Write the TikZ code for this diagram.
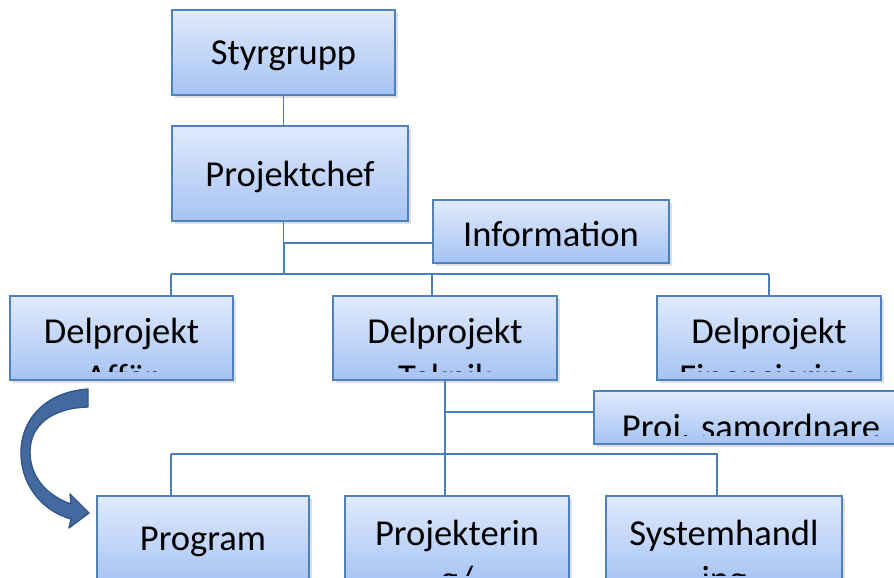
\documentclass[tikz,border=0pt]{standalone}
\usepackage{fontspec}
\setmainfont{Carlito}
\usetikzlibrary{shadows}
\usetikzlibrary{backgrounds}
\definecolor{boxtop}{HTML}{E0EAFC}
\definecolor{boxbot}{HTML}{A6C3F3}
\definecolor{boxline}{HTML}{4F81BD}
\definecolor{linkblue}{HTML}{4A7EBB}
\definecolor{arrowblue}{HTML}{44699F}
\definecolor{arrowline}{HTML}{30568C}
\begin{document}
\begin{tikzpicture}[
  x=0.75pt, y=-0.75pt,
  line width=1.2pt,
  font=\fontsize{27.4pt}{34.5pt}\selectfont
]
\tikzset{
    orgnode/.style = {rectangle, draw=boxline, top color=boxtop, bottom color=boxbot, inner sep=0pt,
      drop shadow={shadow xshift=2pt, shadow yshift=-2pt, opacity=0.25}},
    orglabel/.style = {anchor=base, inner sep=0pt},
    oneline/.style 2 args = {path picture={
      \clip ([yshift=6.75pt]path picture bounding box.south west) rectangle (path picture bounding box.north east);
      \node[orglabel] at ([yshift=#2]path picture bounding box.center) {#1};}},
    twolines/.style 2 args = {path picture={
      \clip ([yshift=6.75pt]path picture bounding box.south west) rectangle (path picture bounding box.north east);
      \node[orglabel] at ([yshift=-3.75pt]path picture bounding box.center) {#1};
      \node[orglabel] at ([yshift=-38.25pt]path picture bounding box.center) {#2};}},
    link/.style = {draw=linkblue, line width=1.4pt},
}
\clip (0,0) rectangle (894,578);
\useasboundingbox (0,0) rectangle (894,578);
\node[orgnode, minimum width=167.25pt, minimum height=63.75pt, oneline={Styrgrupp}{-9pt}] (styr) at (283.5,52.5) {};
\node[orgnode, minimum width=177pt, minimum height=71.25pt, oneline={Projektchef}{-10pt}] (chef) at (290,173.5) {};
\node[orgnode, minimum width=177pt, minimum height=47.25pt, oneline={Information}{-11.5pt}] (info) at (551,231.5) {};
\node[orgnode, minimum width=167.25pt, minimum height=63pt, twolines={Delprojekt}{Affär}] (affar) at (121.5,338) {};
\node[orgnode, minimum width=168pt, minimum height=63pt, twolines={Delprojekt}{Teknik}] (teknik) at (445,338) {};
\node[orgnode, minimum width=168pt, minimum height=63pt, twolines={Delprojekt}{Finansiering}] (finans) at (769,338) {};
\node[orgnode, minimum width=235.5pt, minimum height=39.75pt, oneline={Proj. samordnare}{-16.5pt}] (samord) at (751,417.5) {};
\node[orgnode, minimum width=159pt, minimum height=66pt, oneline={Program}{-8pt}] (program) at (203,540) {};
\node[orgnode, minimum width=168pt, minimum height=66pt, twolines={Projekterin}{g/}] (projekt) at (457,540) {};
\node[orgnode, minimum width=177pt, minimum height=66pt, twolines={Systemhandl}{ing}] (system) at (724,540) {};

\begin{scope}[on background layer]
\coordinate (hub1) at (284,274);
\coordinate (hub2) at (445,454);
\coordinate (hub3) at (717,454);
\draw[link] (styr.south) -- (styr.south |- hub1);
\draw[link] ([yshift=-8.6pt]info.west) -| (hub1);
\draw[link] (chef.south west |- hub1) -- (finans.north |- hub1);
\draw[link] (chef.south west |- hub1) -- (chef.south west |- affar.north);
\draw[link] (info.west |- hub1) -- (info.west |- teknik.north);
\draw[link] (finans.north |- hub1) -- (finans.north);
\draw[link] (teknik.south) -- (teknik.south |- projekt.north);
\draw[link] ([yshift=4.1pt]samord.west) -| (teknik.south);
\draw[link] (chef.south west |- hub2) -- (hub3) -- (hub3 |- system.north);
\draw[link] (chef.south west |- hub2) -- (chef.south west |- program.north);
\end{scope}

\filldraw[fill=arrowblue, draw=arrowline, line width=1pt, line join=round]
  (88,389) .. controls (45,392) and (20,420) .. (21,455)
  .. controls (22,488) and (45,512) .. (71,519) -- (69,528) -- (89,513) -- (70,494) -- (71,504)
  .. controls (48,496) and (30,478) .. (30,452)
  .. controls (30,425) and (52,408) .. (88,407) -- cycle;
\end{tikzpicture}
\end{document}
